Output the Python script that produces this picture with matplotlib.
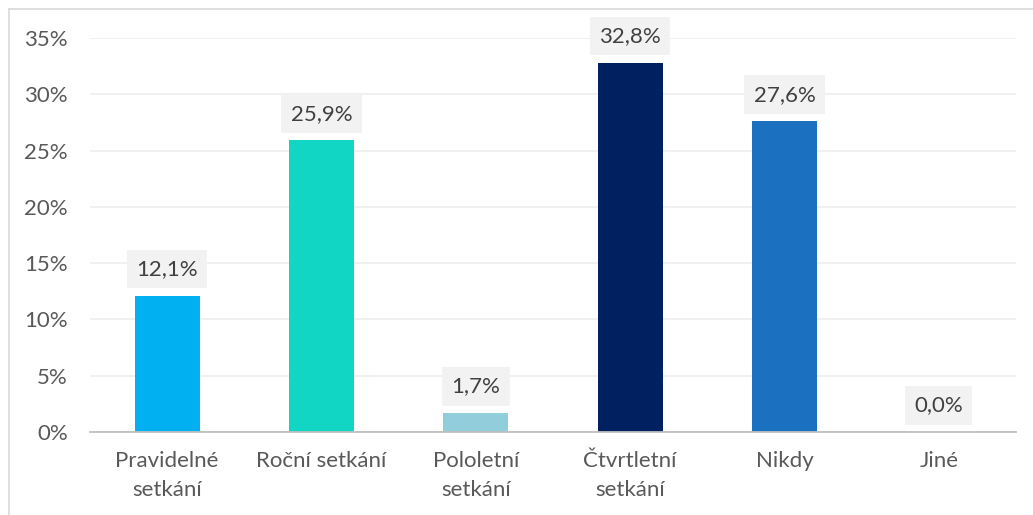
import matplotlib.pyplot as plt
from matplotlib.lines import Line2D

categories = ['Pravidelné\nsetkání', 'Roční setkání', 'Pololetní\nsetkání',
              'Čtvrtletní\nsetkání', 'Nikdy', 'Jiné']
values = [12.1, 25.9, 1.7, 32.8, 27.6, 0.0]
colors = ['#00B0F0', '#12D6C4', '#92CDDC', '#002060', '#1B70C0', '#1B70C0']

plt.rcParams['font.family'] = ['Lato', 'DejaVu Sans']

fig = plt.figure(figsize=(10.33, 5.15), dpi=100)
ax = fig.add_axes([0.0871, 0.1612, 0.8964, 0.7650])

x = range(len(categories))
ax.bar(x, values, width=0.42, color=colors, zorder=2)

for i, v in enumerate(values):
    ax.annotate(f'{v:.1f}%'.replace('.', ','), xy=(i, v), xytext=(0, 12),
                textcoords='offset points', ha='center', va='bottom',
                fontsize=16, color='#404040', zorder=3,
                bbox=dict(boxstyle='square,pad=0.42', fc='#F2F2F2', ec='none'))

ax.set_xlim(-0.5, len(categories) - 0.5)
ax.set_ylim(0, 35)
ax.set_yticks(range(0, 36, 5))
ax.set_yticklabels([f'{t}%' for t in range(0, 36, 5)])
ax.set_xticks(list(x))
ax.set_xticklabels(categories, linespacing=1.55)
ax.tick_params(axis='both', length=0, labelsize=16, colors='#595959')
ax.tick_params(axis='x', pad=14)
ax.tick_params(axis='y', pad=16)
ax.grid(axis='y', color='#EDEDED', linewidth=1.2, zorder=0)
for s in ['top', 'right', 'left']:
    ax.spines[s].set_visible(False)
ax.spines['bottom'].set_color('#BFBFBF')
ax.spines['bottom'].set_linewidth(1.3)

# outer frame
fig.add_artist(Line2D([9 / 1033, 1], [1 - 9 / 515, 1 - 9 / 515], color='#D9D9D9', lw=1.2))
fig.add_artist(Line2D([9 / 1033, 9 / 1033], [0, 1 - 9 / 515], color='#D9D9D9', lw=1.2))

fig.savefig('out.png', dpi=100)
